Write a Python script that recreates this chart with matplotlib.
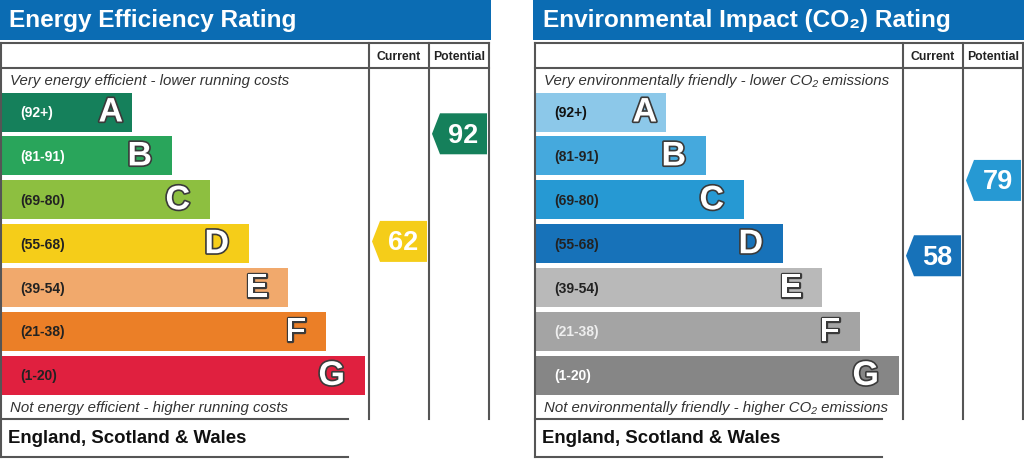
import matplotlib
matplotlib.use("Agg")
import matplotlib.pyplot as plt
from matplotlib.patches import Rectangle, Polygon
import matplotlib.patheffects as pe

# ---- data ----
bands = ["A", "B", "C", "D", "E", "F", "G"]
ranges = ["(92+)", "(81-91)", "(69-80)", "(55-68)", "(39-54)", "(21-38)", "(1-20)"]
band_lengths = [131, 171, 209, 248, 287, 325, 364]

ee_colors = ["#15805b", "#29a55b", "#8dbf40", "#f5cd19", "#f1a96c", "#eb7f27", "#e0203f"]
ee_label_colors = ["white", "white", "#222222", "#222222", "#222222", "#222222", "#222222"]
ei_colors = ["#8cc8e9", "#45a9dd", "#2699d3", "#1772b9", "#b9b9b9", "#a4a4a4", "#868686"]
ei_label_colors = ["#111111", "#222222", "#222222", "#222222", "#222222", "#eeeeee", "white"]

ee_current, ee_potential = 62, 92
ei_current, ei_potential = 58, 79

ee_title = "Energy Efficiency Rating"
ei_title = "Environmental Impact (CO\u2082) Rating"
ee_top = "Very energy efficient - lower running costs"
ee_bottom = "Not energy efficient - higher running costs"
ei_top = "Very environmentally friendly - lower CO\u2082 emissions"
ei_bottom = "Not environmentally friendly - higher CO\u2082 emissions"
region = "England, Scotland & Wales"
col_headers = ["Current", "Potential"]

FAM = ["Liberation Sans", "DejaVu Sans"]
HEADER_BLUE = "#0b6cb3"
LINE = "#555555"


def band_of(v):
    lows = [92, 81, 69, 55, 39, 21, 1]
    for i, lo in enumerate(lows):
        if v >= lo:
            return i
    return 6


def value_to_y(v):
    return 464.8 - 3.587 * v


fig = plt.figure(figsize=(10.24, 4.6), dpi=100)
ax = fig.add_axes([0, 0, 1, 1])
ax.set_xlim(0, 1024)
ax.set_ylim(460, 0)
ax.axis("off")


def panel(x0, hx0, hx1, title, top_txt, bot_txt, colors, label_colors, cur, pot):
    # header
    ax.add_patch(Rectangle((hx0, 0), hx1 - hx0, 41, color=HEADER_BLUE, lw=0))
    ax.text(x0 + 9, 20.5, title, color="white", fontsize=17.6, fontweight="bold",
            family=FAM, va="center", ha="left")
    c1, c2, c3 = x0 + 369, x0 + 429, x0 + 489
    lw = 1.5
    # table lines
    ax.plot([x0 + 1, c3], [44, 44], color=LINE, lw=lw)
    ax.plot([x0 + 1, c3], [69, 69], color=LINE, lw=lw)
    ax.plot([x0 + 1, x0 + 1], [44, 458], color=LINE, lw=lw)
    for cx in (c1, c2, c3):
        ax.plot([cx, cx], [44, 420], color=LINE, lw=lw)
    ax.plot([x0 + 1, x0 + 348], [420, 420], color=LINE, lw=lw)
    ax.plot([x0 + 1, x0 + 348], [458, 458], color=LINE, lw=lw)
    ax.text((c1 + c2) / 2, 57, col_headers[0], fontsize=8.8, fontweight="bold",
            family=FAM, ha="center", va="center", color="#222222")
    ax.text((c2 + c3) / 2, 57, col_headers[1], fontsize=8.8, fontweight="bold",
            family=FAM, ha="center", va="center", color="#222222")
    ax.text(x0 + 10, 81, top_txt, fontsize=10.8, style="italic", family=FAM,
            ha="left", va="center", color="#333333")
    ax.text(x0 + 10, 408.5, bot_txt, fontsize=10.8, style="italic", family=FAM,
            ha="left", va="center", color="#333333")
    ax.text(x0 + 8, 439, region, fontsize=13.4, fontweight="bold", family=FAM,
            ha="left", va="center", color="#111111")
    # bars
    ys = [113 + 43.9 * i for i in range(len(bands))]
    ax.barh(ys, band_lengths, height=39, left=x0 + 1, color=colors, lw=0)
    for i, (y, w) in enumerate(zip(ys, band_lengths)):
        ax.text(x0 + 20, y, ranges[i], fontsize=10, fontweight="bold", family=FAM,
                ha="left", va="center", color=label_colors[i])
        off = 9 if i == 0 else 20
        ax.text(x0 + 1 + w - off, y + 1, bands[i], fontsize=24.5, fontweight="bold",
                family=FAM, ha="right", va="center", color="white",
                path_effects=[pe.withStroke(linewidth=2.4, foreground="#3a3a3a")])
    # arrows
    for val, cl, cr in ((cur, c1, c2), (pot, c2, c3)):
        yc = value_to_y(val)
        h = 41
        left = cl + 3
        right = cr - 2
        tip = 8
        poly = Polygon([(left, yc), (left + tip, yc - h / 2), (right, yc - h / 2),
                        (right, yc + h / 2), (left + tip, yc + h / 2)],
                       closed=True, color=colors[band_of(val)], lw=0)
        ax.add_patch(poly)
        ax.text((left + tip + right) / 2, yc + 1, str(val), fontsize=19.5,
                fontweight="bold", family=FAM, ha="center", va="center", color="white")


panel(0, 0, 491, ee_title, ee_top, ee_bottom, ee_colors, ee_label_colors,
      ee_current, ee_potential)
panel(534, 533, 1024, ei_title, ei_top, ei_bottom, ei_colors, ei_label_colors,
      ei_current, ei_potential)

fig.savefig("out.png", dpi=100, facecolor="white")
